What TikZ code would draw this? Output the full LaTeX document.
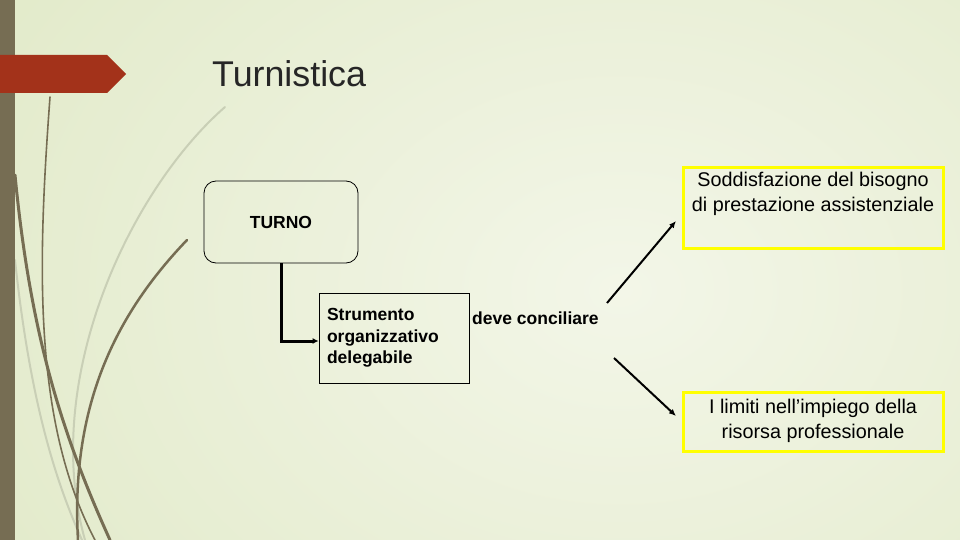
\documentclass[tikz,border=0pt]{standalone}
\usepackage{fontspec}
\setmainfont{Liberation Sans}
\usetikzlibrary{arrows.meta}
\definecolor{bgout}{HTML}{DCE6BF}
\definecolor{bgin}{HTML}{F3F6E8}
\definecolor{olive}{HTML}{766D53}
\definecolor{lightcurve}{HTML}{C9CFB6}
\definecolor{banner}{HTML}{A3321A}
\definecolor{ybord}{HTML}{FFFF00}
\definecolor{titlec}{HTML}{262626}
\tikzset{
  boldtext/.style={font=\fontsize{17.5}{21.5}\selectfont\bfseries, text=black},
  ytext/.style={font=\fontsize{19.8}{24.5}\selectfont, text=black, align=center},
  ybox/.style={draw=ybord, line width=3pt, minimum width=260pt, inner sep=0pt},
  arr/.style={draw=black, line width=2pt, -{Latex[length=7pt,width=6pt]}},
  curve/.style={draw=olive, line cap=round},
  lcurve/.style={draw=lightcurve, line cap=round, line width=2pt}
}
\begin{document}
\begin{tikzpicture}[x=1pt,y=-1pt]
\useasboundingbox (0,0) rectangle (960,540);
\begin{scope}
\clip (0,0) rectangle (960,540);
\fill[bgout] (0,0) rectangle (960,540);
\shade[inner color=bgin, outer color=bgout] (620,290) ellipse (1000 and 760);
% decorative curves
\path[lcurve] (225,107) .. controls (130,190) and (40,380) .. (85,540);
\path[lcurve] (15,260) .. controls (30,400) and (55,480) .. (82,540);
\path[curve, line width=1.6pt] (50,97) .. controls (38,260) and (32,420) .. (95,540);
\path[curve, line width=3pt] (15,175) .. controls (30,330) and (60,430) .. (110,540);
\path[curve, line width=2.5pt] (187,240) .. controls (120,310) and (70,400) .. (78,540);
% left bar and banner
\fill[olive] (0,0) rectangle (15,540);
\fill[banner] (0,55) -- (107,55) -- (126,74) -- (107,93) -- (0,93) -- cycle;
\end{scope}
% title
\node[anchor=base west, inner sep=0pt, text=titlec, font=\fontsize{35.8}{40}\selectfont] (title) at (212,87) {Turnistica};
% TURNO box
\node[draw=black, line width=0.8pt, rounded corners=12pt, minimum width=154pt, minimum height=82pt, boldtext] (turno) at (281,222) {TURNO};
% Strumento box
\node[draw=black, line width=0.8pt, minimum width=150pt, minimum height=90pt, inner xsep=8pt, text width=134pt, align=left, boldtext] (strum) at (394,338) {Strumento\\organizzativo\\delegabile};
\draw[line width=3pt, -{Latex[length=6pt,width=6pt]}] (turno.south) |- ([yshift=-3pt]strum.west);
% deve conciliare
\node[boldtext, anchor=west, inner sep=0pt] (deve) at (472,318) {deve conciliare};
% yellow boxes
\node[ybox, minimum height=81pt, anchor=north] (y1) at (813,166) {};
\node[ytext, anchor=north, inner sep=0pt] (y1t) at (813,172) {Soddisfazione del bisogno\\di prestazione assistenziale};
\node[ybox, minimum height=59pt] (y2) at (813,421.5) {};
\node[ytext, inner sep=0pt] (y2t) at (813,421) {I limiti nell’impiego della\\risorsa professionale};
% arrows
\coordinate (a1s) at (607,303);
\coordinate (a1e) at (676,221);
\coordinate (a2s) at (614,358);
\coordinate (a2e) at (676,416);
\path[arr] (a1s) -- (a1e);
\path[arr] (a2s) -- (a2e);
\end{tikzpicture}
\end{document}
